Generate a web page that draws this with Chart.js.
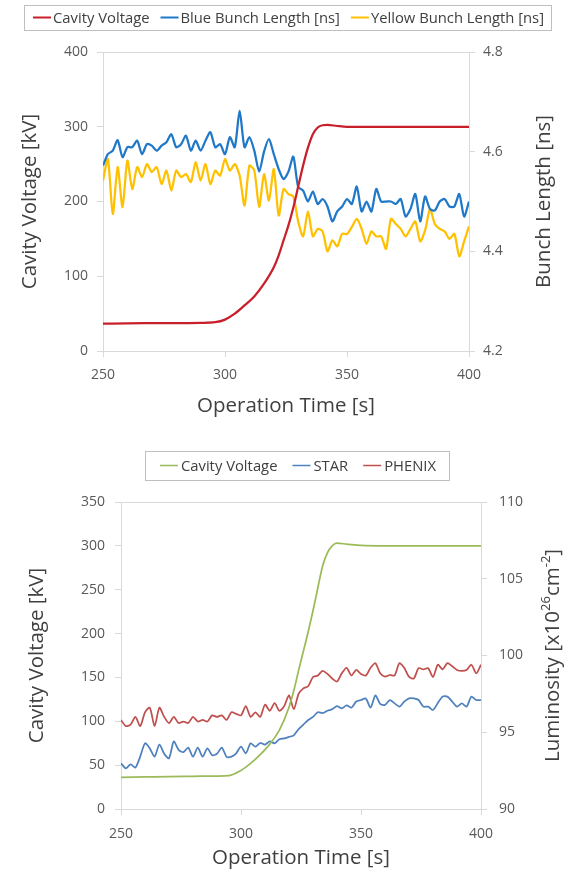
<!DOCTYPE html>
<html><head><meta charset="utf-8">
<script src="https://cdn.jsdelivr.net/npm/chart.js@4.4.1/dist/chart.umd.min.js"></script>
<style>
html,body{margin:0;padding:0;background:#fff;}
#w1{position:absolute;left:0;top:0;width:571px;height:420px;}
#w2{position:absolute;left:0;top:440px;width:571px;height:433px;}
</style>
</head><body>
<div id="w1"><canvas id="c1" width="571" height="420"></canvas></div>
<div id="w2"><canvas id="c2" width="571" height="433"></canvas></div>
<script>
// ---------- DATA: top chart ----------
const bunchTime = [250,252,254,256,258,260,262,264,266,268,270,272,274,276,278,280,282,284,286,288,290,292,294,296,298,300,302,304,306,308,310,312,314,316,318,320,322,324,326,328,330,332,334,336,338,340,342,344,346,348,350,352,354,356,358,360,362,364,366,368,370,372,374,376,378,380,382,384,386,388,390,392,394,396,398,400];
const blueBunch = [4.572,4.595,4.602,4.623,4.589,4.609,4.609,4.622,4.595,4.615,4.612,4.602,4.612,4.619,4.635,4.609,4.615,4.632,4.602,4.622,4.602,4.622,4.639,4.609,4.615,4.595,4.629,4.609,4.682,4.609,4.629,4.602,4.560,4.600,4.625,4.595,4.565,4.545,4.560,4.590,4.529,4.522,4.500,4.520,4.495,4.505,4.490,4.460,4.480,4.490,4.505,4.495,4.530,4.480,4.500,4.480,4.525,4.500,4.500,4.500,4.495,4.505,4.470,4.485,4.515,4.460,4.510,4.485,4.482,4.500,4.505,4.490,4.490,4.515,4.470,4.500];
const yellowBunch = [4.542,4.585,4.475,4.569,4.489,4.582,4.525,4.569,4.549,4.575,4.559,4.569,4.535,4.562,4.522,4.562,4.549,4.555,4.539,4.579,4.542,4.575,4.535,4.562,4.552,4.585,4.562,4.575,4.552,4.492,4.572,4.562,4.489,4.555,4.502,4.565,4.472,4.525,4.515,4.510,4.460,4.430,4.480,4.430,4.445,4.440,4.400,4.422,4.410,4.435,4.435,4.449,4.465,4.445,4.415,4.440,4.430,4.430,4.405,4.465,4.455,4.445,4.430,4.445,4.460,4.420,4.442,4.485,4.455,4.445,4.440,4.425,4.435,4.390,4.420,4.450];
const cavityTimeTop = [250,260,270,280,290,296,300,304,308,312,316,320,322,324,326,328,330,332,334,336,338,340,342,346,350,360,370,380,390,400];
const cavityTop = [36.5,37,37.2,37.4,37.7,38.5,42,50,61,73,90,112,128,148,168,192,220,248,272,290,299,302,302.5,301,300,300,300,300,300,300];

// ---------- DATA: bottom chart ----------
const lumiTime = [250,252,254,256,258,260,262,264,266,268,270,272,274,276,278,280,282,284,286,288,290,292,294,296,298,300,302,304,306,308,310,312,314,316,318,320,322,324,326,328,330,332,334,336,338,340,342,344,346,348,350,352,354,356,358,360,362,364,366,368,370,372,374,376,378,380,382,384,386,388,390,392,394,396,398,400];
const starLumi = [92.98,92.65,92.90,92.70,93.41,94.28,93.95,93.41,94.20,93.60,93.30,94.40,93.85,93.70,94.00,93.41,94.00,93.41,93.95,93.50,93.60,94.00,93.40,93.41,93.63,94.06,93.63,94.28,94.06,94.30,94.20,94.40,94.28,94.55,94.60,94.70,94.80,95.20,95.50,95.80,96.00,96.30,96.25,96.40,96.50,96.70,96.56,96.75,96.60,97.00,97.10,97.20,96.60,97.40,96.85,96.78,97.10,96.88,96.67,96.99,97.21,97.21,97.10,96.67,96.67,96.45,96.90,97.32,97.32,97.00,96.67,96.88,96.67,97.32,97.10,97.10];
const phenixLumi = [95.8,95.4,95.5,96.0,95.4,96.3,96.6,95.4,96.6,96.0,95.6,96.0,95.6,95.7,95.6,96.0,95.7,95.8,95.7,96.1,96.0,96.1,95.8,96.3,96.2,96.1,96.7,96.0,96.3,96.0,96.8,96.4,96.9,96.4,96.7,97.4,96.5,97.5,97.86,98.0,98.6,98.7,99.0,98.8,98.5,98.3,98.84,99.2,98.7,99.06,98.8,98.7,99.2,99.5,98.84,98.62,98.73,98.7,99.5,99.2,98.62,98.5,99.17,99.1,99.17,98.6,99.4,99.1,99.5,99.3,99.06,99.0,99.06,99.4,98.84,99.4];
const cavityTimeBottom = [250,260,270,280,290,295,300,304,308,312,316,320,322,324,326,328,330,332,334,336,338,340,344,350,360,370,380,390,400];
const cavityBottom = [36,36.5,37,37.3,37.6,38,44,52,62,74,90,116,135,158,180,202,226,252,277,292,300,303,302,300.5,300,300,300,300,300];

// ---------- TEXT / TICKS ----------
const xTitle = 'Operation Time [s]';
const leftTitle = 'Cavity Voltage [kV]';
const topRightTitle = [{t:'Bunch Length [ns]'}];
const bottomRightTitle = [{t:'Luminosity [x10'},{t:'26',sup:true},{t:'cm'},{t:'-2',sup:true},{t:']'}];
const topLabels = ['Cavity Voltage','Blue Bunch Length [ns]','Yellow Bunch Length [ns]'];
const bottomLabels = ['Cavity Voltage','STAR','PHENIX'];
const xTicks = [250, 400, 50];
const topLeftTicks = [0, 400, 100];
const topRightTicks = [4.2, 4.8, 0.2];
const bottomLeftTicks = [0, 350, 50];
const bottomRightTicks = [90, 110, 5];

// ---------- STYLE ----------
const FONT = "'Open Sans', Lato, sans-serif";
const TICK_COLOR = '#595959';
const TITLE_COLOR = '#404040';
const AXIS_COLOR = '#d9d9d9';
const TITLE_SIZE = 20.5;

function pts(xs, ys){ return xs.map((x,i)=>({x:x, y:ys[i]})); }

function legendPlugin(cfg){
  return {
    id:'boxLegend',
    afterDraw(chart){
      const ctx = chart.ctx;
      ctx.save();
      ctx.font = cfg.size + 'px ' + FONT;
      const items = chart.data.datasets.map(d => ({text:d.label, color:d.borderColor, w: ctx.measureText(d.label).width}));
      let total = 0;
      items.forEach((it,i)=>{ total += cfg.lineLen + cfg.lineGap + it.w + (i ? cfg.itemGap : 0); });
      let x = cfg.cx - total/2;
      const bx = x - cfg.padL, bw = total + cfg.padL + cfg.padR;
      ctx.strokeStyle = '#bfbfbf'; ctx.lineWidth = 1;
      ctx.strokeRect(Math.round(bx)+0.5, cfg.boxTop+0.5, Math.round(bw), cfg.boxBottom - cfg.boxTop);
      ctx.textBaseline = 'middle'; ctx.textAlign = 'left';
      items.forEach((it,i)=>{
        if (i) x += cfg.itemGap;
        ctx.strokeStyle = it.color; ctx.lineWidth = cfg.lw;
        ctx.beginPath(); ctx.moveTo(x, cfg.cy); ctx.lineTo(x + cfg.lineLen, cfg.cy); ctx.stroke();
        x += cfg.lineLen + cfg.lineGap;
        ctx.fillStyle = TITLE_COLOR;
        ctx.fillText(it.text, x, cfg.cy + 1);
        x += it.w;
      });
      ctx.restore();
    }
  };
}

function rightTitlePlugin(cfg){
  return {
    id:'rightTitle',
    afterDraw(chart){
      const ctx = chart.ctx; const a = chart.chartArea;
      ctx.save();
      ctx.translate(cfg.x, (a.top + a.bottom)/2);
      ctx.rotate(-Math.PI/2);
      ctx.fillStyle = TITLE_COLOR; ctx.textBaseline = 'middle'; ctx.textAlign = 'left';
      const big = cfg.size + 'px ' + FONT, small = Math.round(cfg.size*0.62) + 'px ' + FONT;
      let total = 0;
      cfg.parts.forEach(p => { ctx.font = p.sup ? small : big; p.w = ctx.measureText(p.t).width; total += p.w; });
      let x = -total/2;
      cfg.parts.forEach(p => { ctx.font = p.sup ? small : big; ctx.fillText(p.t, x, p.sup ? -cfg.size*0.32 : 0); x += p.w; });
      ctx.restore();
    }
  };
}

function makeScales(o){
  return {
    x: {
      type:'linear', min:xTicks[0], max:xTicks[1],
      ticks:{stepSize:xTicks[2], padding:o.xPad, color:TICK_COLOR, font:{family:FONT,size:14}, maxRotation:0},
      grid:{drawOnChartArea:false, tickLength:6, color:AXIS_COLOR, tickColor:AXIS_COLOR},
      border:{display:true, color:AXIS_COLOR},
      title:{display:true, text:xTitle, color:TITLE_COLOR, font:{family:FONT,size:TITLE_SIZE}, padding:{top:0,bottom:o.xTitlePad}},
      afterFit: s => { s.height = o.xH; }
    },
    y: {
      position:'left', min:o.lt[0], max:o.lt[1],
      ticks:{stepSize:o.lt[2], padding:o.lPad, color:TICK_COLOR, font:{family:FONT,size:14}},
      grid:{drawOnChartArea:true, tickLength:6, tickColor:AXIS_COLOR, color: c => (c.tick && c.tick.value === o.lt[1]) ? AXIS_COLOR : 'rgba(0,0,0,0)'},
      border:{display:true, color:AXIS_COLOR},
      title:{display:true, text:leftTitle, color:TITLE_COLOR, font:{family:FONT,size:TITLE_SIZE}, padding:{top:o.lTitlePad,bottom:0}},
      afterFit: s => { s.width = o.lW; }
    },
    y2: {
      position:'right', min:o.rt[0], max:o.rt[1],
      ticks:{stepSize:o.rt[2], padding:o.rPad, color:TICK_COLOR, font:{family:FONT,size:14}, callback: o.rFmt},
      grid:{drawOnChartArea:false, tickLength:6, color:AXIS_COLOR, tickColor:AXIS_COLOR},
      border:{display:true, color:AXIS_COLOR},
      afterFit: s => { s.width = o.rW; }
    }
  };
}

function ds(label, xs, ys, color, axis, lw, mode, tension){
  return {label:label, data:pts(xs,ys), borderColor:color, backgroundColor:color, borderWidth:lw,
    pointRadius:0, yAxisID:axis, tension:tension, cubicInterpolationMode: mode || 'default', fill:false};
}

new Chart(document.getElementById('c1'), {
  type:'line',
  data:{ datasets:[
    ds(topLabels[0], cavityTimeTop, cavityTop, '#c8202a', 'y', 2.25, 'monotone', 0.4),
    ds(topLabels[1], bunchTime, blueBunch, '#1f78c8', 'y2', 2.25, 'default', 0.25),
    ds(topLabels[2], bunchTime, yellowBunch, '#ffc000', 'y2', 2.25, 'default', 0.25)
  ]},
  options:{
    responsive:false, animation:false,
    layout:{padding:{top:52,left:0,right:0,bottom:0}},
    plugins:{legend:{display:false}, tooltip:{enabled:false}},
    scales: makeScales({xPad:10, xTitlePad:2, xH:69, lt:topLeftTicks, lPad:9, lTitlePad:18, lW:103,
      rt:topRightTicks, rPad:8, rW:102, rFmt: v => Number(v).toFixed(1)})
  },
  plugins:[
    legendPlugin({cx:288.5, cy:17.5, size:14.8, lineLen:18, lineGap:2, itemGap:11, padL:9, padR:7, boxTop:5, boxBottom:30, lw:2}),
    rightTitlePlugin({x:544, size:TITLE_SIZE, parts:topRightTitle})
  ]
});

new Chart(document.getElementById('c2'), {
  type:'line',
  data:{ datasets:[
    ds(bottomLabels[0], cavityTimeBottom, cavityBottom, '#9bbb59', 'y', 1.75, 'monotone', 0.4),
    ds(bottomLabels[1], lumiTime, starLumi, '#4f81bd', 'y2', 1.75, 'default', 0.25),
    ds(bottomLabels[2], lumiTime, phenixLumi, '#c0504d', 'y2', 1.75, 'default', 0.25)
  ]},
  options:{
    responsive:false, animation:false,
    layout:{padding:{top:62,left:0,right:0,bottom:0}},
    plugins:{legend:{display:false}, tooltip:{enabled:false}},
    scales: makeScales({xPad:11, xTitlePad:3, xH:64, lt:bottomLeftTicks, lPad:10, lTitlePad:25, lW:121,
      rt:bottomRightTicks, rPad:12, rW:90, rFmt: v => String(v)})
  },
  plugins:[
    legendPlugin({cx:298, cy:25.5, size:14.8, lineLen:18, lineGap:3, itemGap:15, padL:15, padR:13, boxTop:11, boxBottom:40, lw:1.5}),
    rightTitlePlugin({x:553, size:TITLE_SIZE, parts:bottomRightTitle})
  ]
});
</script>
</body></html>
